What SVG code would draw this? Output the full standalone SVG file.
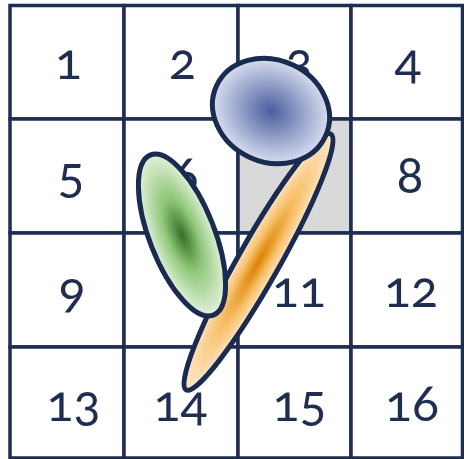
<svg xmlns="http://www.w3.org/2000/svg" width="464" height="459" viewBox="0 0 464 459">
<style>
.c{fill:#ffffff;stroke:#1f2d50;stroke-width:3.5}
.t{font-family:Lato,"Noto Sans",sans-serif;font-weight:400;font-size:50px;fill:#1f2d50;text-anchor:middle;font-variant-numeric:oldstyle-nums;font-feature-settings:"onum" 1}
.e{stroke:#1a2b52;stroke-width:5}
</style>
<defs>
<radialGradient id="gb"><stop offset="0" stop-color="#4a5d9e"/><stop offset="1" stop-color="#d8def0"/></radialGradient>
<radialGradient id="gg"><stop offset="0" stop-color="#347026"/><stop offset="0.45" stop-color="#8fc778"/><stop offset="1" stop-color="#e3f1dc"/></radialGradient>
<radialGradient id="go"><stop offset="0" stop-color="#dc8200"/><stop offset="0.5" stop-color="#f8c06a"/><stop offset="1" stop-color="#fee6c8"/></radialGradient>
</defs>
<g id="cell1"><rect class="c" x="10" y="5.5" width="114" height="113.5"/><text class="t" x="68.5" y="79">1</text></g>
<g id="cell2"><rect class="c" x="124" y="5.5" width="114" height="113.5"/><text class="t" x="182.5" y="79">2</text></g>
<g id="cell3"><rect class="c" x="238" y="5.5" width="113" height="113.5"/><text class="t" x="299" y="79">3</text></g>
<g id="cell4"><rect class="c" x="351" y="5.5" width="111.5" height="113.5"/><text class="t" x="408" y="79">4</text></g>
<g id="cell5"><rect class="c" x="10" y="119" width="114" height="114"/><text class="t" x="71" y="193">5</text></g>
<g id="cell6"><rect class="c" x="124" y="119" width="114" height="114"/><text class="t" x="185" y="193">6</text></g>
<g id="cell7"><rect class="c" x="238" y="119" width="113" height="114" style="fill:#d9d9d9"/></g>
<g id="cell8"><rect class="c" x="351" y="119" width="111.5" height="114"/><text class="t" x="410" y="193">8</text></g>
<g id="cell9"><rect class="c" x="10" y="233" width="114" height="114"/><text class="t" x="72" y="307">9</text></g>
<g id="cell10"><rect class="c" x="124" y="233" width="114" height="114"/></g>
<g id="cell11"><rect class="c" x="238" y="233" width="113" height="114"/><text class="t" x="299" y="307">11</text></g>
<g id="cell12"><rect class="c" x="351" y="233" width="111.5" height="114"/><text class="t" x="411" y="307">12</text></g>
<g id="cell13"><rect class="c" x="10" y="347" width="114" height="111"/><text class="t" x="73.5" y="421">13</text></g>
<g id="cell14"><rect class="c" x="124" y="347" width="114" height="111"/><text class="t" x="180.5" y="421">14</text></g>
<g id="cell15"><rect class="c" x="238" y="347" width="113" height="111"/><text class="t" x="299.5" y="421">15</text></g>
<g id="cell16"><rect class="c" x="351" y="347" width="111.5" height="111"/><text class="t" x="412" y="421">16</text></g>
<g id="connectors"></g>
<g id="orange"><ellipse class="e" cx="0" cy="0" rx="147" ry="20.5" fill="url(#go)" transform="translate(258.5 262) rotate(-60.5)"/></g>
<g id="green"><ellipse class="e" cx="0" cy="0" rx="86" ry="32.5" fill="url(#gg)" transform="translate(182 235) rotate(68.6)"/></g>
<g id="blue"><ellipse class="e" cx="0" cy="0" rx="60" ry="51" fill="url(#gb)" transform="translate(271 111) rotate(25)"/></g>
</svg>
